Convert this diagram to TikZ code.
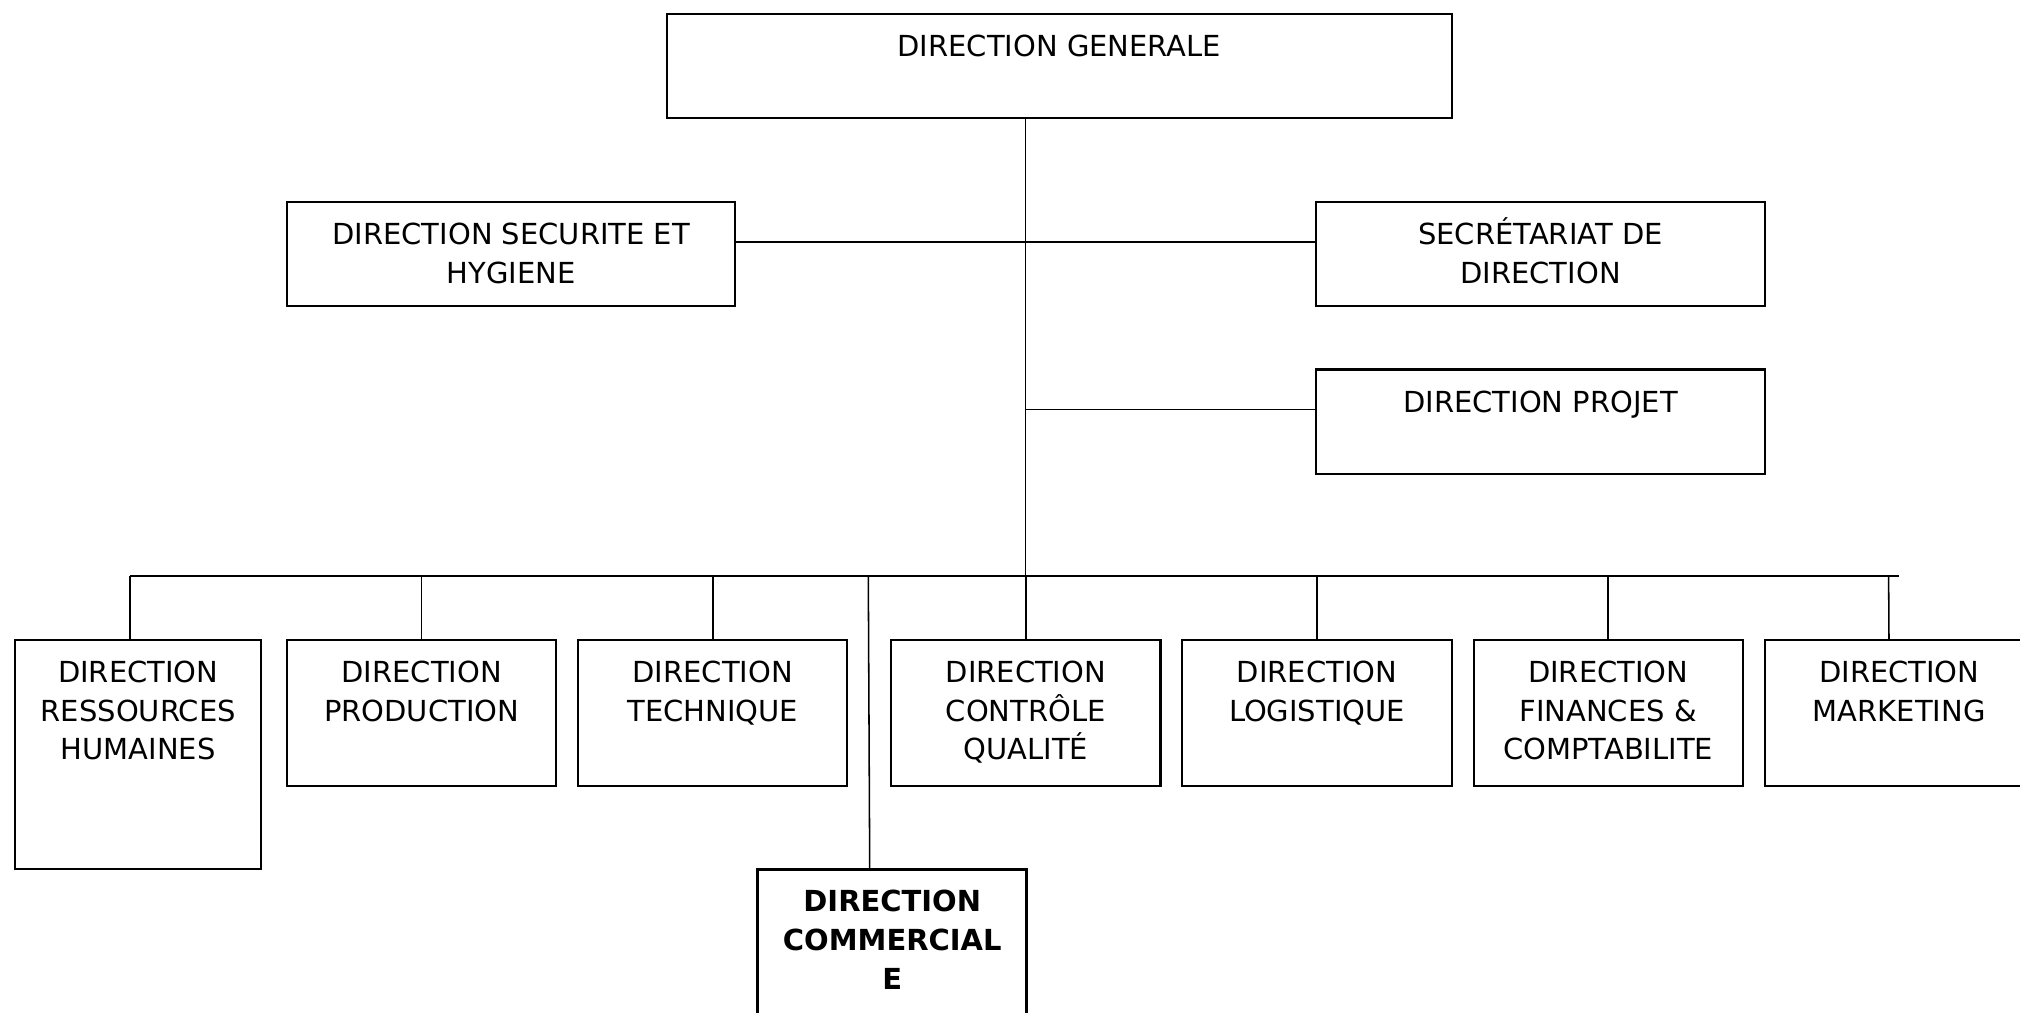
\documentclass[tikz,border=0pt]{standalone}
\usepackage{fontspec}
\setmainfont{DejaVu Sans}
\tikzset{
  box/.style={draw, line width=1.6pt, rectangle, inner sep=0pt},
  boldbox/.style={box, line width=2.2pt},
  lbl/.style={anchor=north, inner sep=0pt, align=center,
    font=\fontsize{22.5}{30}\selectfont},
  link/.style={line width=1.2pt},
}
% name, left, top, width, height, text
\newcommand\orgbox[7][box]{%
  \node[#1, minimum width=#5pt, minimum height=#6pt, anchor=north west] (#2) at (#3,#4) {};
  \node[lbl] (#2-t) at ([yshift=-12.8pt]#2.north) {\vphantom{É}#7};
}
\begin{document}
\begin{tikzpicture}[x=1pt, y=-1pt]
\useasboundingbox (0,0) rectangle (1568,786);
\clip (0,0) rectangle (1568,786);
\fill[white] (0,0) rectangle (1568,786);

% top level
\orgbox{dg}{517}{10}{609}{81}{DIRECTION GENERALE}
\orgbox{secu}{222}{156}{348}{81}{DIRECTION SECURITE ET\\HYGIENE}
\orgbox{secr}{1021}{156}{348}{81}{SECRÉTARIAT DE\\DIRECTION}
\orgbox{proj}{1021}{286}{348}{81}{DIRECTION PROJET}

% departments
\orgbox{rh}{11}{496}{191}{178}{DIRECTION\\RESSOURCES\\HUMAINES}
\orgbox{prod}{222}{496}{209}{113}{DIRECTION\\PRODUCTION}
\orgbox{tech}{448}{496}{209}{113}{DIRECTION\\TECHNIQUE}
\orgbox{cq}{691}{496}{209}{113}{DIRECTION\\CONTRÔLE\\QUALITÉ}
\orgbox{log}{917}{496}{209}{113}{DIRECTION\\LOGISTIQUE}
\orgbox{fin}{1143}{496}{209}{113}{DIRECTION\\FINANCES \&\\COMPTABILITE}
\orgbox{mkt}{1369}{496}{209}{113}{DIRECTION\\MARKETING}
\orgbox[boldbox]{com}{587}{674}{209}{160}{\bfseries DIRECTION\\\bfseries COMMERCIAL\\\bfseries E}

% junction points on the trunk
\coordinate (hA) at (796,188);
\coordinate (hB) at (796,318);
\coordinate (bus) at (796,447);
\coordinate (busL) at (101,447);
\coordinate (busR) at (1474,447);

% trunk and side links
\draw[link] (dg.south -| bus) -- (bus);
\draw[link] (hA -| secu.east) -- (hA -| secr.west);
\draw[link] (hB) -- (hB -| proj.west);

% bus and drops
\draw[link] (busL) -- (busR);
\draw[link] (busL) -- (busL |- rh.north);
\draw[link] (bus -| prod.north) -- (prod.north);
\draw[link] (bus -| tech.north) -- (tech.north);
\draw[link] (bus -| cq.north) -- (cq.north);
\draw[link] (bus -| log.north) -- (log.north);
\draw[link] (bus -| fin.north) -- (fin.north);
\draw[link] (bus -| 1466,0) -- ([xshift=-8pt]mkt.north);
\draw[link] (bus -| 674,0) -- ([xshift=-17.5pt]com.north);
\end{tikzpicture}
\end{document}
